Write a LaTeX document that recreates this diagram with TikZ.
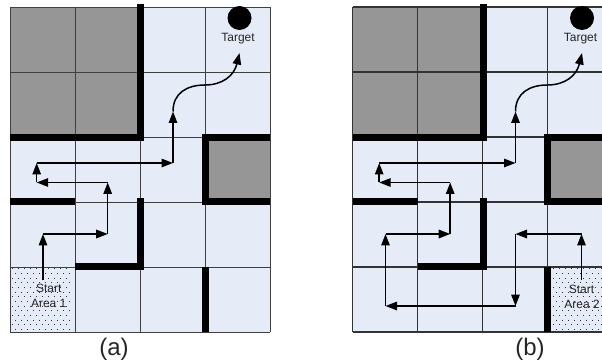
\documentclass[tikz,border=0pt]{standalone}
\usepackage{fontspec}
\setmainfont{Liberation Sans}
\usetikzlibrary{arrows.meta}
\definecolor{cellfill}{HTML}{E6ECF7}
\definecolor{blockfill}{HTML}{969696}
\tikzset{
  x=1pt,y=-1pt,
  gridline/.style={draw=black!75,line width=0.9pt},
  wall/.style={draw=black,line width=7pt,line cap=butt},
  route/.style={draw=black,line width=1.5pt,line join=miter,-{Triangle[length=11.5pt,width=8.5pt]}},
  routeplain/.style={draw=black,line width=1.5pt,line join=round},
  smalltext/.style={font=\fontsize{12}{14}\selectfont,inner sep=0pt,text=black!85},
  captiontext/.style={font=\fontsize{24}{28}\selectfont,inner sep=0pt,text=black!85},
  goal/.style={circle,fill=black,inner sep=0pt,minimum size=24pt}
}
\newcommand{\mazebase}[1]{%
  \fill[cellfill] (10,7) rectangle (270,332);
  \fill[blockfill] (10,7) rectangle (140,137);
  \fill[blockfill] (205,137) rectangle (270,202);
}
\newcommand{\mazetop}[1]{%
  \foreach \gx in {10,75,140,205,270} \draw[gridline] (\gx,7) -- (\gx,332);
  \foreach \gy in {7,72,137,202,267,332} \draw[gridline] (10,\gy) -- (270,\gy);
  \draw[wall] (140.5,4) -- (140.5,140.8);
  \draw[wall] (10,137.3) -- (144,137.3);
  \draw[wall] (205.3,134) -- (205.3,205.5);
  \draw[wall] (202,137.3) -- (270,137.3);
  \draw[wall] (202,202) -- (270,202);
  \draw[wall] (10,202) -- (75,202);
  \draw[wall] (140.5,198.5) -- (140.5,270);
  \draw[wall] (75,266.6) -- (144,266.6);
  \draw[wall] (205.3,266.6) -- (205.3,332);
  \node[goal] (#1goal) at (239.5,18) {};
  \node[smalltext] (#1target) at (238,38.7) {Target};
  \coordinate (#1a) at (43,234);
  \coordinate (#1b) at (107.7,234);
  \coordinate (#1c) at (107.7,182.5);
  \coordinate (#1d) at (36.7,182.5);
  \coordinate (#1e) at (36.7,163);
  \coordinate (#1f) at (173,163);
  \coordinate (#1g) at (173,111.5);
  \coordinate (#1h) at (205,85);
  \coordinate (#1i) at (239.5,53);
  \draw[route] (#1a) -- (#1b);
  \draw[route] (#1b) -- (#1c);
  \draw[route] (#1c) -- (#1d);
  \draw[route] (#1d) -- (#1e);
  \draw[route] (#1e) -- (#1f);
  \draw[route] (#1f) -- (#1g);
  \draw[routeplain] (#1g) .. controls (173,93) and (187,85) .. (#1h);
  \draw[route] (#1h) .. controls (222,85) and (234,76) .. (#1i);
}
\newcommand{\speckle}[3]{%
  % #1,#2 = left,top; #3 = number of columns
  \foreach \sr in {0,...,13} {
    \pgfmathsetmacro{\sodd}{mod(\sr,2)*3}
    \foreach \sc in {1,...,#3} {
      \fill[black!80] ({#1+\sc*6-4.5+\sodd},{#2+1.5+\sr*4.65}) rectangle ++(1,1);
    }
  }
}
\begin{document}
\begin{tikzpicture}
\useasboundingbox (0,0) rectangle (602,363);
\clip (0,0) rectangle (602,363);
\begin{scope}
  \mazebase{p}
  \speckle{10}{267}{10}
  \mazetop{p}
  \coordinate (pstart) at (43,280);
  \draw[route] (pstart) -- (pa);
  \node[smalltext] (pst) at (48.7,288) {Start};
  \node[smalltext] (par) at (48.7,303) {Area 1};
  \node[captiontext] (pcap) at (114,349) {(a)};
\end{scope}
\begin{scope}[xshift=342.5pt,gridline/.style={draw=black!80,line width=1.1pt}]
  \mazebase{q}
  \speckle{209}{267}{10}
  \mazetop{q}
  \coordinate (qstart) at (239,280);
  \coordinate (qm) at (239,234);
  \coordinate (qn) at (173,234);
  \coordinate (qo) at (173,306);
  \coordinate (qp) at (43,306);
  \draw[route] (qstart) -- (qm);
  \draw[route] (qm) -- (qn);
  \draw[route] (qn) -- (qo);
  \draw[route] (qo) -- (qp);
  \draw[route] (qp) -- (qa);
  \node[smalltext] (qst) at (239,289) {Start};
  \node[smalltext] (qar) at (239.5,304) {Area 2};
  \node[captiontext] (qcap) at (187.5,349) {(b)};
\end{scope}
\end{tikzpicture}
\end{document}
